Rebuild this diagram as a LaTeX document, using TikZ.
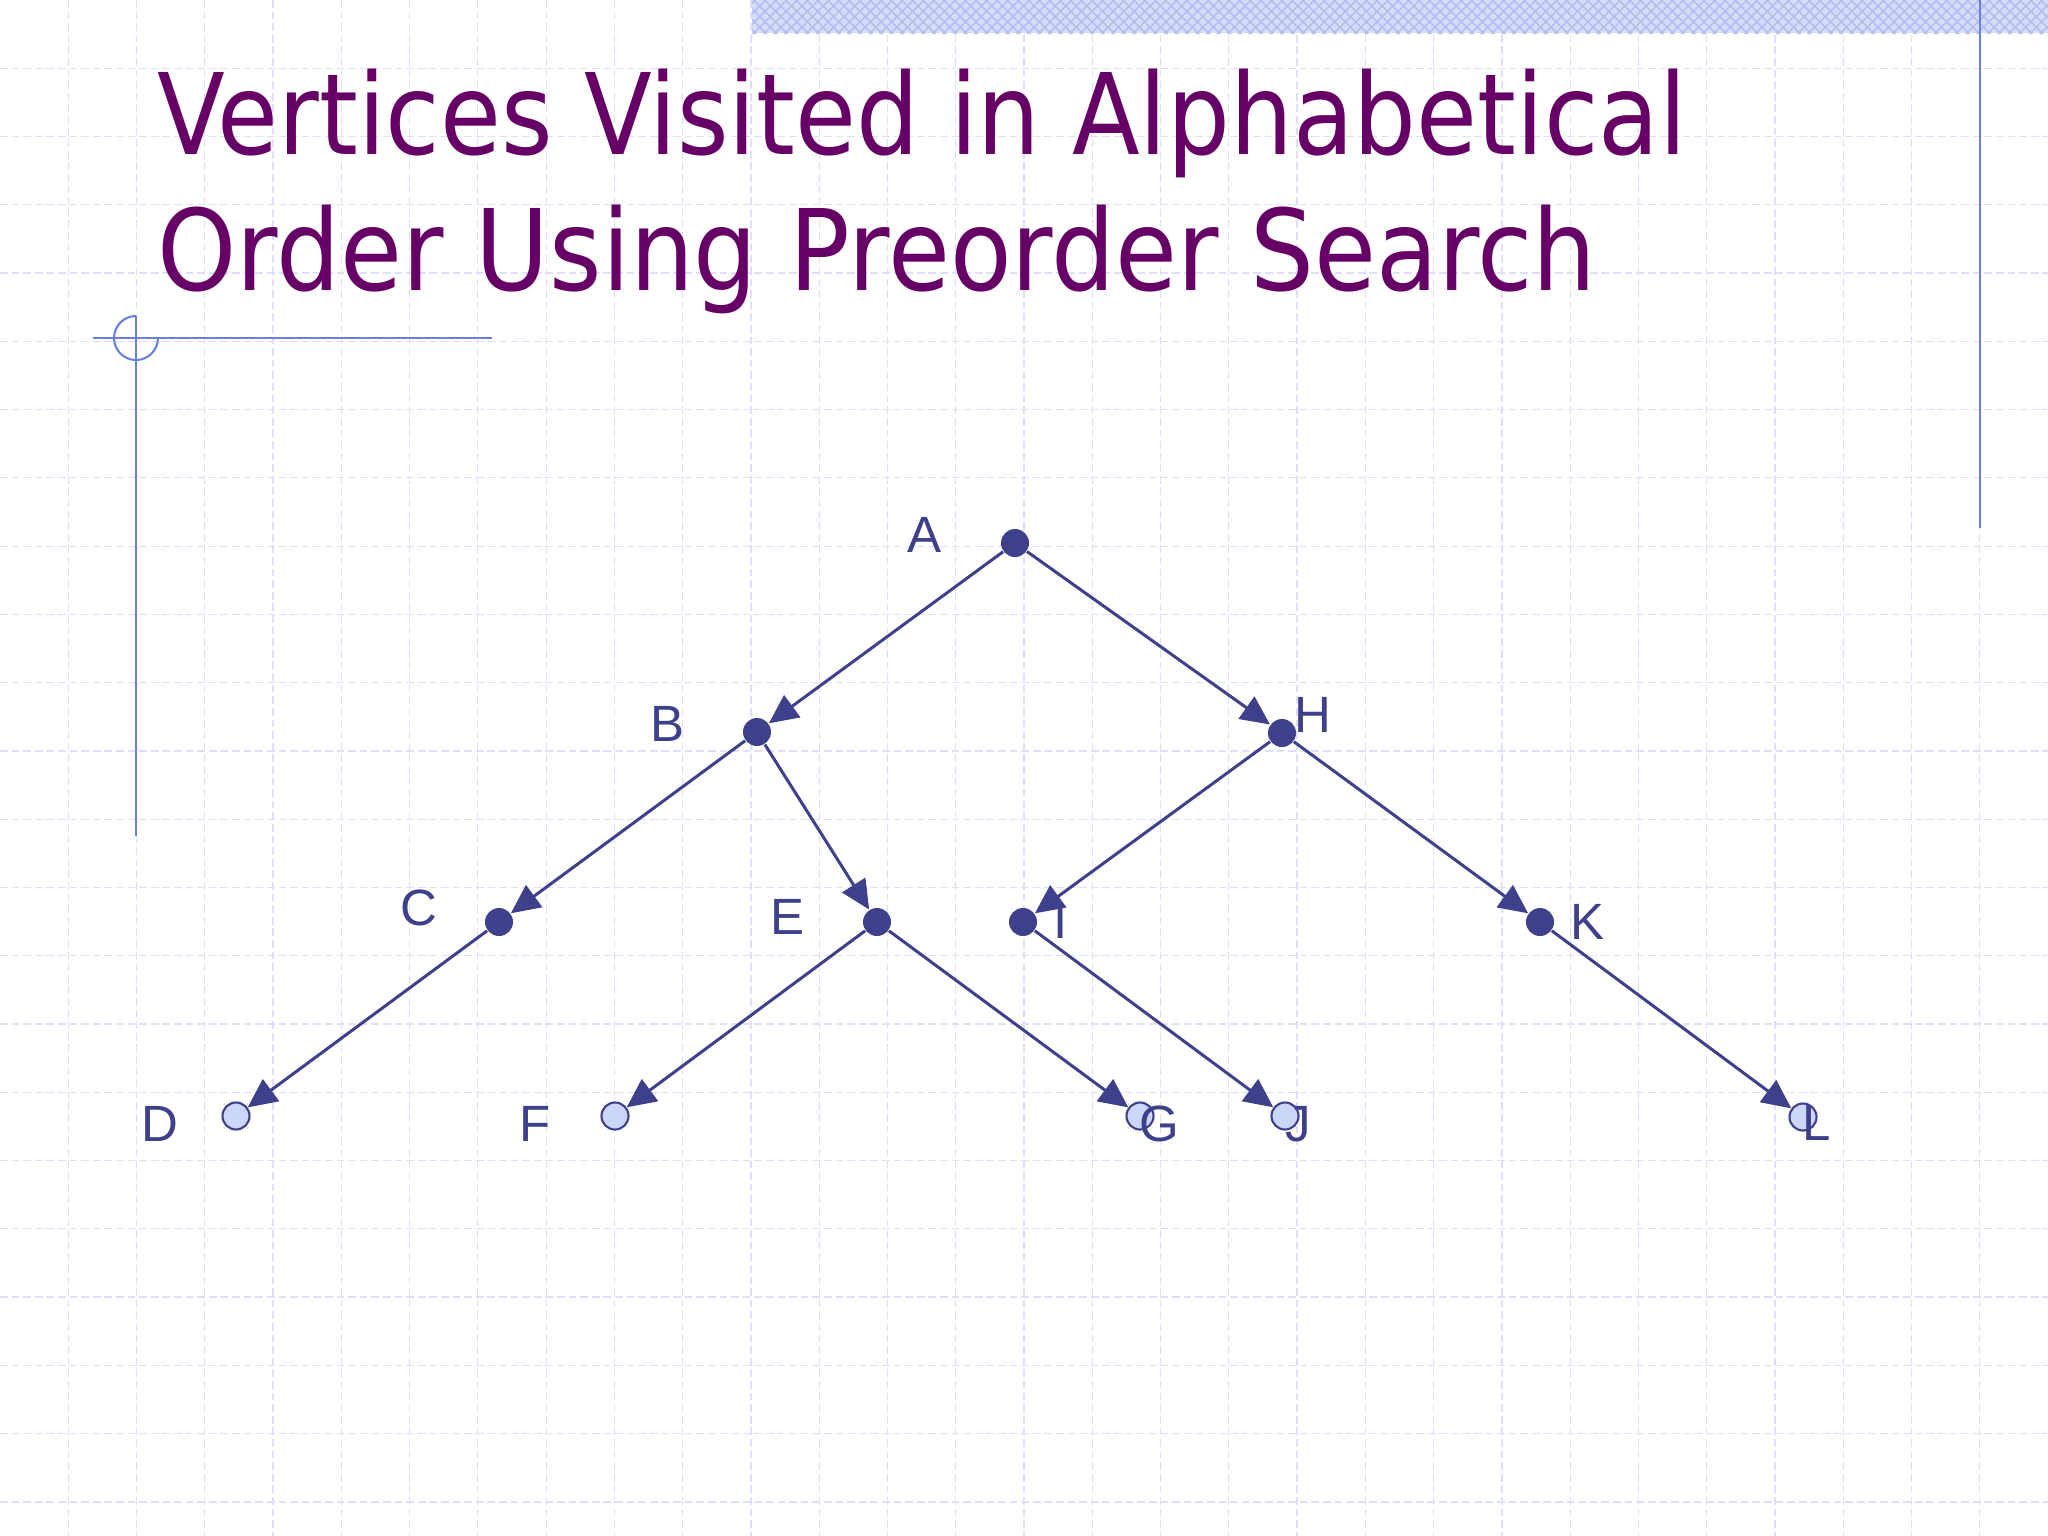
\documentclass[tikz,border=0pt]{standalone}
\usepackage{fontspec}
\usepackage{graphicx}
\usetikzlibrary{arrows.meta,patterns}
\newfontfamily\titlefont{DejaVu Sans}
\newfontfamily\lblfont{Liberation Sans}
\definecolor{navy}{RGB}{62,64,140}
\definecolor{leafblue}{RGB}{204,214,248}
\definecolor{titlepurple}{RGB}{102,0,102}
\definecolor{decoblue}{RGB}{106,128,224}
\definecolor{gridcol}{RGB}{222,224,250}
\definecolor{bandlight}{RGB}{214,220,248}
\definecolor{bandhatch}{RGB}{176,188,238}
\tikzset{
  gridline/.style={draw=gridcol, line width=0.35pt, dash pattern=on 2.2pt off 1.1pt},
  deco/.style={draw=decoblue, line width=0.6pt},
  inner/.style={circle, fill=navy, minimum size=0.28cm, inner sep=0pt},
  leaf/.style={circle, fill=leafblue, draw=navy, line width=0.6pt, minimum size=0.27cm, inner sep=0pt},
  lbl/.style={inner sep=0pt, text=navy, font=\lblfont\fontsize{14.5pt}{17pt}\selectfont},
  edge/.style={draw=navy, line width=0.85pt, -{Triangle[length=0.29cm,width=0.27cm]}},
  ttl/.style={anchor=base west, inner sep=0pt, text=titlepurple, font=\titlefont\fontsize{32pt}{38pt}\selectfont}
}
\begin{document}
\begin{tikzpicture}[x=0.01cm, y=-0.01cm]
\useasboundingbox (0,0) rectangle (2048,1536);
\fill[white] (0,0) rectangle (2048,1536);
% grid
\foreach \i in {1,...,29} \draw[gridline] ({\i*68.267},0) -- ({\i*68.267},1536);
\foreach \j in {1,...,22} \draw[gridline] (0,{\j*68.267}) -- (2048,{\j*68.267});
% top band
\fill[bandlight] (752,0) rectangle (2048,33);
\fill[pattern=crosshatch, pattern color=bandhatch] (752,0) rectangle (2048,33);
% right vertical line
\draw[deco] (1980,0) -- (1980,528);
% left decoration
\draw[deco] (93,338) -- (492,338);
\draw[deco] (136,316) -- (136,836);
\draw[deco] (136,316) arc[start angle=270, end angle=0, radius=22];
% title
\node[ttl] (title1) at (157,154) {\scalebox{0.88}[1]{Vertices Visited in Alphabetical}};
\node[ttl] (title2) at (157,290) {\scalebox{0.895}[1]{Order Using Preorder Search}};
% tree nodes
\node[inner] (A) at (1015,543) {};
\node[inner] (B) at (757,732) {};
\node[inner] (H) at (1282,733) {};
\node[inner] (C) at (499,922) {};
\node[inner] (E) at (877,922) {};
\node[inner] (I) at (1023,922) {};
\node[inner] (K) at (1540,922) {};
\node[leaf] (D) at (236,1116) {};
\node[leaf] (F) at (615,1116) {};
\node[leaf] (G) at (1140,1116) {};
\node[leaf] (J) at (1285,1116) {};
\node[leaf] (L) at (1803,1117) {};
% labels
\node[lbl] (lA) at (924,535) {A};
\node[lbl] (lB) at (667,724) {B};
\node[lbl] (lH) at (1313,715) {H};
\node[lbl] (lC) at (419,908) {C};
\node[lbl] (lE) at (787,917) {E};
\node[lbl] (lI) at (1061,921) {I};
\node[lbl] (lK) at (1587,922) {K};
\node[lbl] (lD) at (160,1124) {D};
\node[lbl] (lF) at (535,1124) {F};
\node[lbl] (lG) at (1159,1124) {G};
\node[lbl] (lJ) at (1298,1124) {J};
\node[lbl] (lL) at (1817,1123) {L};
% edges
\draw[edge] (A) -- (B);
\draw[edge] (A) -- (H);
\draw[edge] (B) -- (C);
\draw[edge] (B) -- (E);
\draw[edge] (C) -- (D);
\draw[edge] (E) -- (F);
\draw[edge] (E) -- (G);
\draw[edge] (H) -- (I);
\draw[edge] (H) -- (K);
\draw[edge] (I) -- (J);
\draw[edge] (K) -- (L);
\end{tikzpicture}
\end{document}
